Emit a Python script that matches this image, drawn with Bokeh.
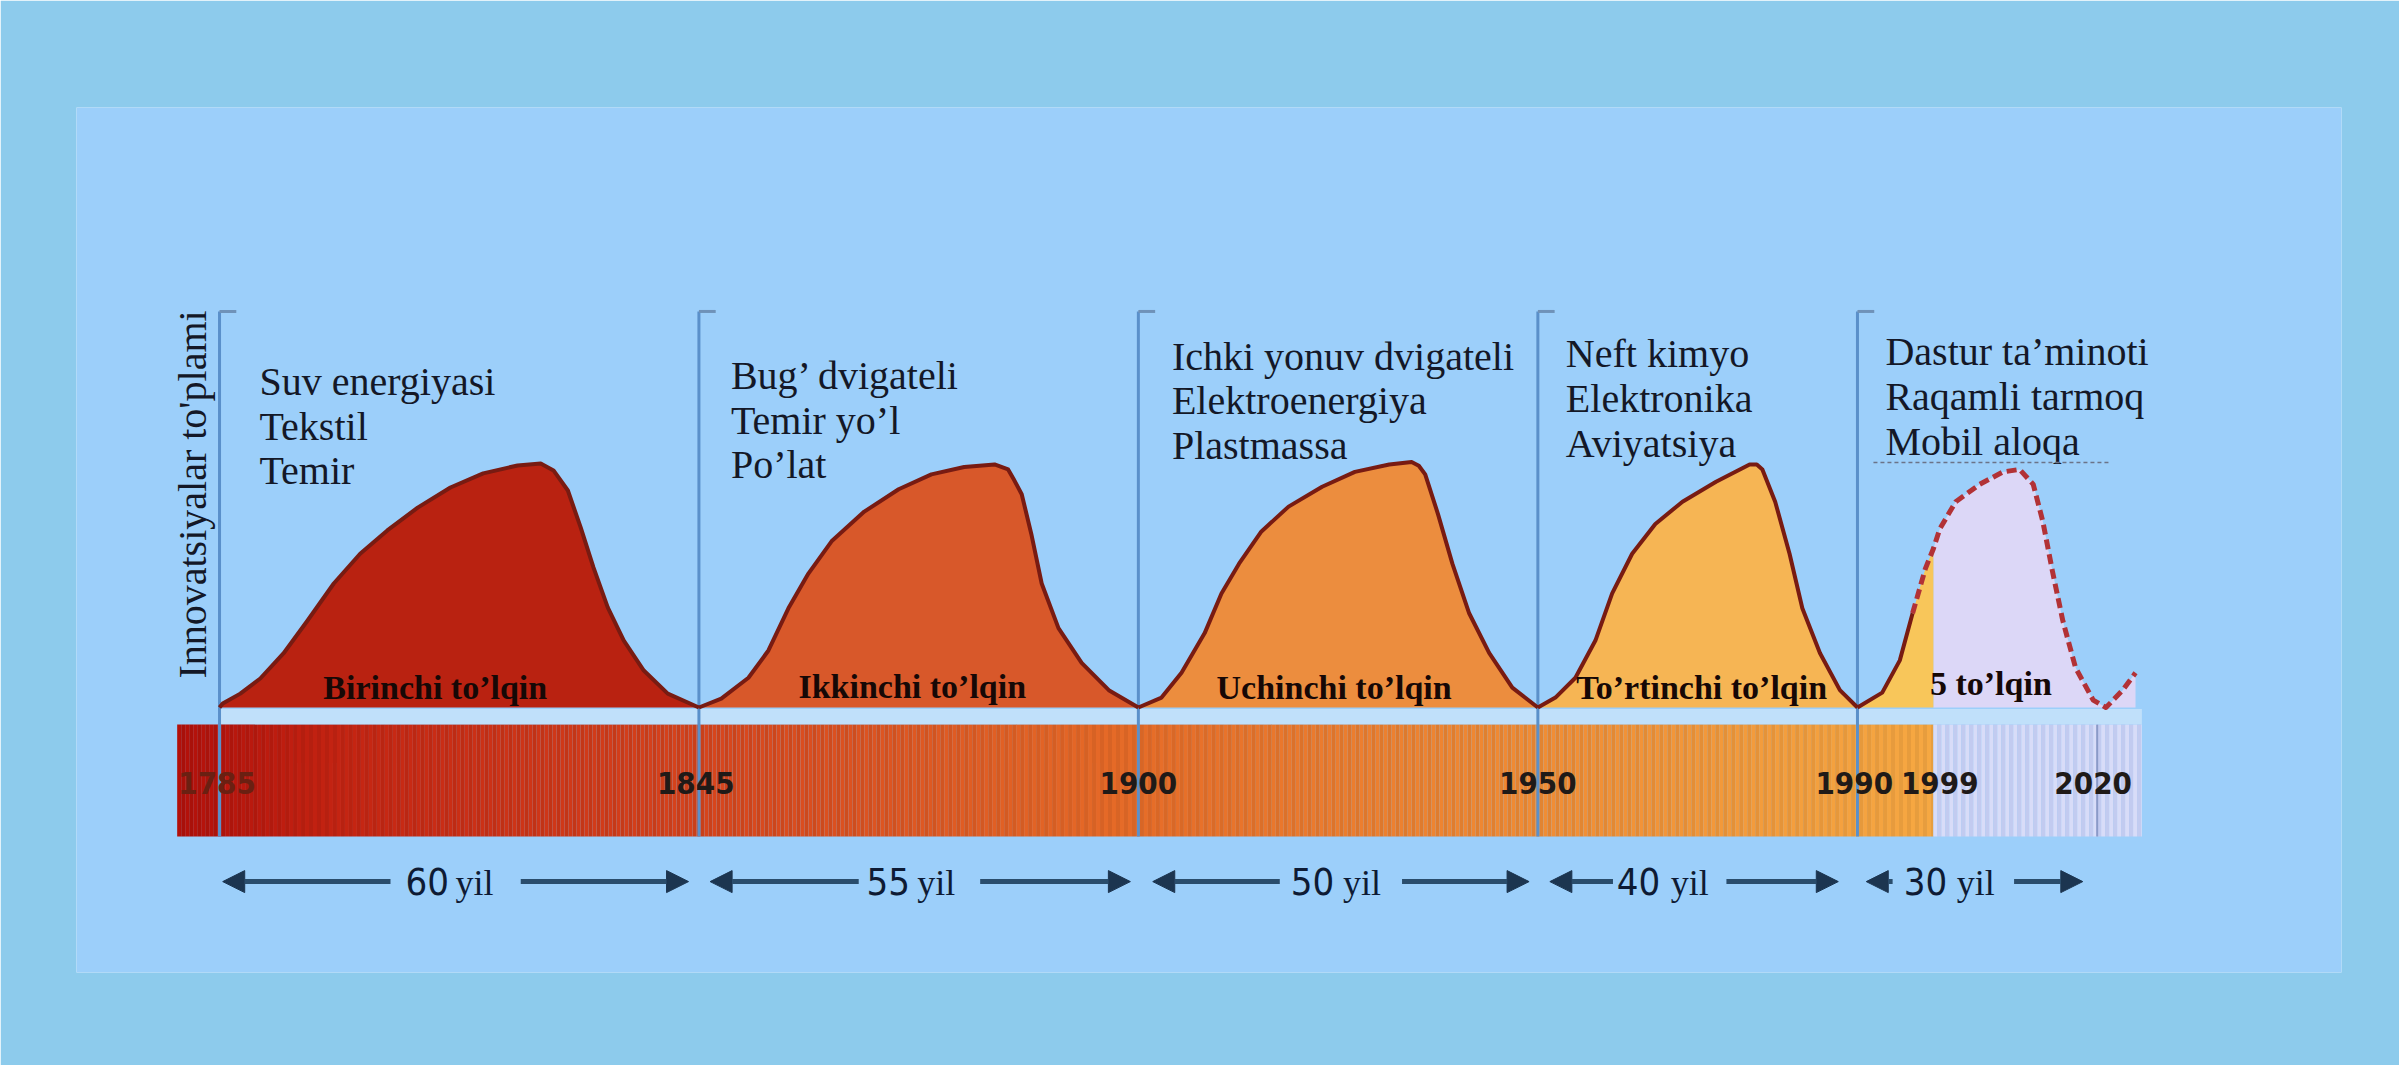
import numpy as np
from bokeh.plotting import figure
from bokeh.models import Range1d, Arrow, NormalHead
from bokeh.core.properties import value
from bokeh.embed import file_html
from bokeh.resources import INLINE

# ---------------- data ----------------
wave_names = ["Birinchi to\u2019lqin", "Ikkinchi to\u2019lqin", "Uchinchi to\u2019lqin",
              "To\u2019rtinchi to\u2019lqin", "5 to\u2019lqin"]
wave_start = [1785, 1845, 1900, 1950, 1990]
wave_end = [1845, 1900, 1950, 1990, 2020]
durations = ["60", "55", "50", "40", "30"]
duration_unit = "yil"
year_ticks = [1785, 1845, 1900, 1950, 1990, 1999, 2020]
innovations = [
    ["Suv energiyasi", "Tekstil", "Temir"],
    ["Bug\u2019 dvigateli", "Temir yo\u2019l", "Po\u2019lat"],
    ["Ichki yonuv dvigateli", "Elektroenergiya", "Plastmassa"],
    ["Neft kimyo", "Elektronika", "Aviyatsiya"],
    ["Dastur ta\u2019minoti", "Raqamli tarmoq", "Mobil aloqa"],
]
y_label = "Innovatsiyalar to'plami"

w1_year = [1785.0, 1785.4, 1787.6, 1790.1, 1793.0, 1796.0, 1799.3, 1802.6, 1806.0, 1809.8,
           1813.9, 1818.0, 1822.3, 1825.2, 1826.8, 1828.6, 1830.2, 1831.8, 1833.6, 1835.6,
           1838.1, 1841.1, 1845.0]
w1_val = [0, 1.6, 5.6, 11.7, 21.8, 35, 50, 62, 71.4, 80.6, 88.7, 94.4, 97.6, 98.4, 95.6,
          87.5, 72.6, 56.5, 40.3, 27, 14.9, 5.6, 0]
w2_year = [1845.0, 1847.8, 1851.2, 1853.7, 1856.2, 1858.7, 1861.6, 1865.7, 1870.0, 1874.1,
           1878.2, 1882.0, 1883.7, 1884.4, 1885.4, 1886.6, 1887.9, 1890.0, 1892.9, 1896.3, 1900.0]
w2_val = [0, 3.6, 12, 23, 40, 54, 67, 79, 88, 94, 97, 98, 96, 92, 86, 70, 50, 32, 18, 7, 0]
w3_year = [1900.0, 1902.9, 1905.4, 1908.3, 1910.4, 1912.6, 1915.4, 1918.8, 1923.0, 1927.1,
           1931.4, 1934.2, 1935.1, 1935.9, 1937.5, 1939.3, 1941.4, 1943.9, 1946.8, 1950.0]
w3_val = [0, 4, 14, 30, 46, 58, 71, 81, 89, 95, 98, 99, 97.5, 94, 78, 58, 38, 22, 8, 0]
w4_year = [1950.0, 1952.2, 1954.7, 1957.2, 1959.3, 1961.8, 1964.7, 1968.1, 1972.3, 1976.5,
           1977.4, 1978.1, 1979.7, 1981.5, 1983.1, 1985.3, 1987.8, 1990.0]
w4_val = [0, 4, 12, 27, 46, 62, 74, 83, 91, 98, 98, 96, 83, 62, 40, 22, 7, 0]
w5_year = [1990.0, 1993.1, 1995.3, 1996.9, 1998.5, 1999.5, 2000.3, 2002.3, 2005.3, 2008.2,
           2010.3, 2012.0, 2013.2, 2014.4, 2015.7, 2017.3, 2019.5, 2021.1, 2023.2, 2024.8]
w5_val = [0, 6, 19, 38, 56, 64, 72, 83, 90, 95, 96, 90, 75, 55, 35, 16, 3, 0, 7, 14]
forecast_from = 1996.9      # where the 5th wave turns into a dashed forecast
known_until = 1999.5        # end of the coloured (historical) part of the time bar
bar_end = 2025.6

wave_years = [w1_year, w2_year, w3_year, w4_year, w5_year]
wave_vals = [w1_val, w2_val, w3_val, w4_val, w5_val]

# ---------------- layout / style ----------------
OUTER = "#8DCBEC"
PANEL = "#9CCFFA"
wave_fill = ["#B92211", "#D8582A", "#EC8D3E", "#F6B554"]
w5_old_fill = "#F8C65A"
w5_new_fill = "#DCD7F7"
outline = "#781B12"
serif = value("Liberation Serif")
narrow = value("DejaVu Sans Condensed")

p = figure(width=2399, height=1065,
           x_range=Range1d(1767.10, 2050.58), y_range=Range1d(-106.85, 241.94),
           x_axis_type=None, y_axis_type=None,
           min_border_left=76, min_border_right=58, min_border_top=107, min_border_bottom=93,
           output_backend="svg", toolbar_location=None)
p.background_fill_color = PANEL
p.border_fill_color = OUTER
p.outline_line_color = None

# pale strip between the waves and the time bar
p.quad(left=[wave_start[0]], right=[bar_end], bottom=[-6.9], top=[-0.6],
       fill_color="#C0E0FA", line_color=None)

# time bar: coloured part (gradient with fine stripes) + lavender future part
BAR_BOT, BAR_TOP = -52.0, -6.9
anc_year = [1779.7, 1800, 1845, 1900, 1950, known_until]
anc_rgb = np.array([(178, 16, 10), (196, 36, 18), (214, 68, 28), (230, 108, 40),
                    (240, 140, 52), (246, 168, 66)], dtype=float)
left = np.arange(1779.7, known_until, 0.5)
cols = []
for i, x in enumerate(left):
    c = np.array([np.interp(x + 0.25, anc_year, anc_rgb[:, k]) for k in range(3)])
    if i % 2:
        c = c * 0.94
    cols.append("#%02x%02x%02x" % tuple(int(round(v)) for v in c))
right = np.minimum(left + 0.5, known_until)
p.quad(left=left, right=right, bottom=BAR_BOT, top=BAR_TOP, fill_color=cols, line_color=None)
lleft = np.arange(known_until, bar_end, 0.5)
lcols = ["#D8DCF8" if i % 2 == 0 else "#C2CBF0" for i in range(len(lleft))]
p.quad(left=lleft, right=np.minimum(lleft + 0.5, bar_end), bottom=BAR_BOT, top=BAR_TOP,
       fill_color=lcols, line_color=None)

# vertical wave boundary lines with their little top hooks
LINE_TOP = 159.7
p.segment(x0=wave_start, y0=[LINE_TOP] * 5, x1=wave_start, y1=[BAR_BOT] * 5,
          line_color="#5A90CA", line_width=3)
p.segment(x0=wave_start, y0=[LINE_TOP] * 5, x1=[s + 2.1 for s in wave_start], y1=[LINE_TOP] * 5,
          line_color="#6F92B8", line_width=3)
p.segment(x0=[wave_end[-1]], y0=[BAR_TOP], x1=[wave_end[-1]], y1=[BAR_BOT],
          line_color="#8A9AC8", line_width=2)

# waves 1-4
for k in range(4):
    xs, ys = wave_years[k], wave_vals[k]
    p.patch(x=xs + [xs[-1], xs[0]], y=ys + [0, 0], fill_color=wave_fill[k], line_color=None)
    p.line(x=xs, y=ys, line_color=outline, line_width=4, line_join="round")

# wave 5: historical (yellow) + forecast (lavender) parts
i_split = w5_year.index(known_until)
xa, ya = w5_year[:i_split + 1], w5_val[:i_split + 1]
xb, yb = w5_year[i_split:], w5_val[i_split:]
p.patch(x=xb + [xb[-1], xb[0]], y=yb + [0, 0], fill_color=w5_new_fill, line_color=None)
p.patch(x=xa + [xa[-1], xa[0]], y=ya + [0, 0], fill_color=w5_old_fill, line_color=None)
i_f = w5_year.index(forecast_from)
p.line(x=w5_year[:i_f + 1], y=w5_val[:i_f + 1], line_color=outline, line_width=4, line_join="round")
p.line(x=w5_year[i_f:], y=w5_val[i_f:], line_color="#B23236", line_width=5,
       line_dash="10 5", line_join="round")

# wave names inside the waves
name_x = [1812.0, 1871.7, 1924.5, 1970.5, 2006.7]
name_y = [8.0, 8.5, 8.0, 8.0, 9.6]
p.text(x=name_x, y=name_y, text=wave_names, text_font=serif, text_font_size="34px",
       text_font_style="bold", text_color="#160806", text_align="center",
       text_baseline="alphabetic")

# innovation lists
inn_x = [1790.0, 1849.0, 1904.2, 1953.5, 1993.5]
inn_y0 = [131.6, 134.0, 141.7, 142.7, 143.6]
LINE_STEP = 18.1
tx, ty, tt = [], [], []
for k in range(5):
    for j, s in enumerate(innovations[k]):
        tx.append(inn_x[k]); ty.append(inn_y0[k] - j * LINE_STEP); tt.append(s)
p.text(x=tx, y=ty, text=tt, text_font=serif, text_font_size="40px",
       text_color="#141827", text_align="left", text_baseline="alphabetic")
p.segment(x0=[1992.0], y0=[98.8], x1=[2021.7], y1=[98.8], line_color="#6B7388",
          line_width=1.5, line_dash="4 3")

# vertical axis title
p.text(x=[1781.6], y=[85.9], text=[y_label], angle=np.pi / 2, text_font=serif,
       text_font_size="40px", text_color="#141827", text_align="center", text_baseline="middle")

# year labels in the bar (the 1999 label is nudged right so it clears 1990)
year_label_shift = [-0.3, -0.4, 0, 0, -0.4, 1.3, -0.5]
ycol = ["#6A2012"] + ["#1F1A18"] * (len(year_ticks) - 1)
p.text(x=[y + s for y, s in zip(year_ticks, year_label_shift)], y=[-30.6] * len(year_ticks),
       text=[str(y) for y in year_ticks],
       text_font=narrow, text_font_size="31px", text_font_style="bold", text_color=ycol,
       text_align="center", text_baseline="middle")

# duration arrows
# per period: left tip, left line end, number centre, "yil" centre, right line start, right tip
arrow_layout = [
    (1785.4, 1806.4, 1811.0, 1816.9, 1822.7, 1843.7),
    (1846.4, 1865.0, 1868.7, 1874.7, 1880.2, 1899.0),
    (1901.8, 1917.7, 1921.8, 1928.0, 1933.0, 1948.9),
    (1951.5, 1959.4, 1962.6, 1969.0, 1973.6, 1987.6),
    (1991.1, 1994.4, 1998.5, 2004.8, 2009.6, 2018.2),
]
AY = -70.2
ACOL = "#2A4D6C"
for lt, le, nc, yc, rs, rt in arrow_layout:
    p.add_layout(Arrow(x_start=le, y_start=AY, x_end=lt, y_end=AY, line_color=ACOL, line_width=5,
                       end=NormalHead(size=22, fill_color="#1C3550", line_color="#1C3550")))
    p.add_layout(Arrow(x_start=rs, y_start=AY, x_end=rt, y_end=AY, line_color=ACOL, line_width=5,
                       end=NormalHead(size=22, fill_color="#1C3550", line_color="#1C3550")))
p.text(x=[a[2] for a in arrow_layout], y=[AY] * 5, text=durations, text_font=narrow,
       text_font_size="38px", text_color="#0E1B34", text_align="center", text_baseline="middle")
p.text(x=[a[3] for a in arrow_layout], y=[AY - 0.5] * 5, text=[duration_unit] * 5, text_font=serif,
       text_font_size="36px", text_color="#0E1B34", text_align="center", text_baseline="middle")

open("out.html", "w").write(file_html(p, INLINE))
